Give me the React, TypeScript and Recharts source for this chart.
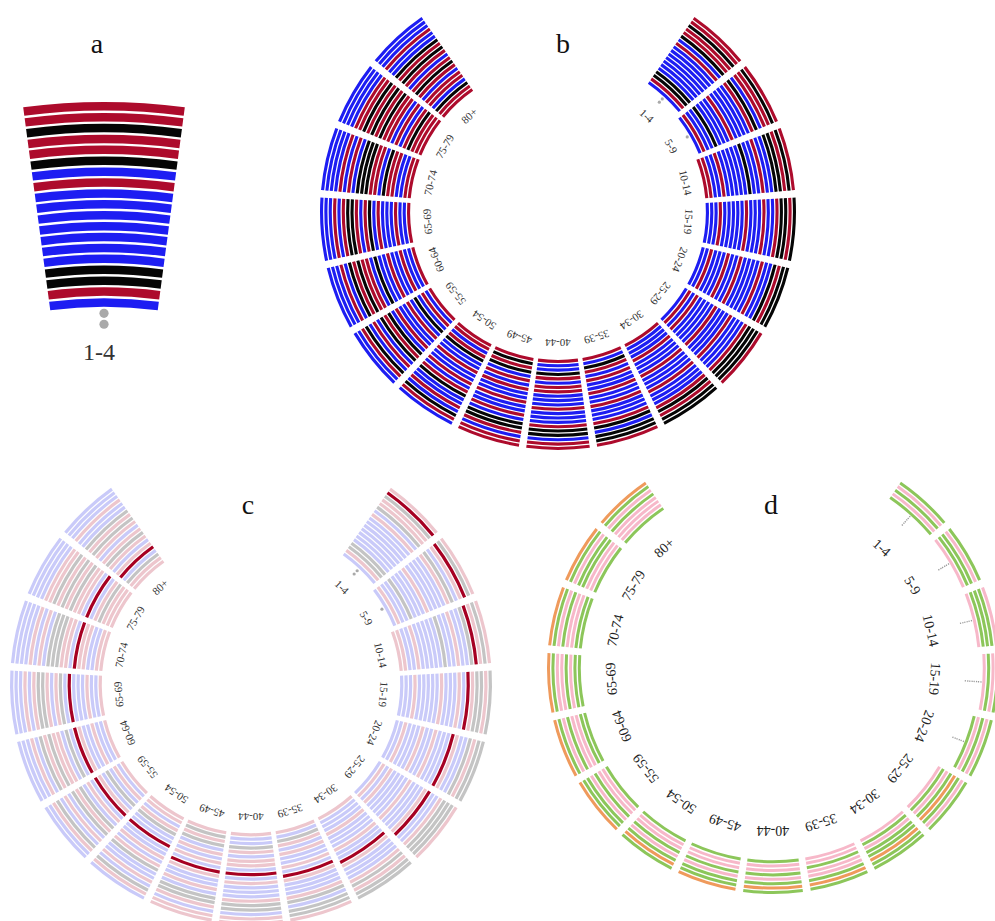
import React from 'react';
import { PieChart, Pie, Cell } from 'recharts';

const AGE_GROUPS = [
  '1-4', '5-9', '10-14', '15-19', '20-24', '25-29', '30-34', '35-39', '40-44',
  '45-49', '50-54', '55-59', '60-64', '65-69', '70-74', '75-79', '80+',
];

// panel b / c rings per age group, outer -> inner. R red, K black, B blue, '.' no data
const B_RINGS = [
  'RRKRRKBRBBBBBBBKKRB..',
  'RKRRBKRBBBBRBBBKBBRB.',
  'RKRKKBBRBBKBBBBBRBBRR',
  'KRKKRBBRBBBRBBBBBRBBB',
  'KKRKBBRBBBBRBBRBBBRBB',
  'RKKKRBBBRBBBRBBBBRBRB',
  'KKRKRBBBRBBBRBBBRBBBR',
  'RKKBKRBBBRBBRBBRBRKBR',
  'RRBKKRBBBRBBBRRBRKBBR',
  'RRBRKKBRBBRBBRBRBKRKR',
  'BRKBRBBKRBRBBRBBKRBRR',
  'BBRKBRBKRKBRBBRBKBRBR',
  'BBBRBKRKRRBKBBRBBRBBR',
  'BBBRBRKKRBRKBRBBBRBBR',
  'BBBBRBRBKKKRRBKRRBBRR',
  'BBBBRRKRKRKRRBRBRKRRR',
  'BBBRBBKRKRBRKRBRRBKRR',
];

// panel c: ring (outer -> inner) of the highlighted row in each age group
const C_HIGHLIGHT = [1, 2, 3, 5, 7, 7, 9, 10, 11, 11, 13, 13, 13, 13, 14, 14, 16];

// panel d rings, outer -> inner. G green, P pink, O orange, '.' no data
const D_RINGS = [
  'GPGPG...',
  'GPGGP...',
  'PGGGP...',
  'GPGP....',
  'GPGPG...',
  'GPGOGPGP',
  'GGOGGPGP',
  'GOGPPGPP',
  'GOGPGPPG',
  'OGGPGPPG',
  'GOGPGPPG',
  'OGGPGPPG',
  'OGPGPPGG',
  'OGPPGPGG',
  'OGPGPPGG',
  'OGPGGPPG',
  'OGPGPPPG',
];

// panel a zooms on this age group of panel b
const A_GROUP = '1-4';

const B_COLORS: Record<string, string> = { R: '#ad0b2c', K: '#050505', B: '#1d1df2' };
const C_COLORS: Record<string, string> = { R: '#edc6cd', K: '#c4c4c4', B: '#c9caf9' };
const C_HIGHLIGHT_COLOR = '#a60022';
const D_COLORS: Record<string, string> = { G: '#8cc65a', P: '#f7b8c9', O: '#ef9a5c' };

const RADIAN = Math.PI / 180;
const SERIF = "'Liberation Serif', 'Times New Roman', serif";

type Geo = {
  cx: number; cy: number; outer: number; pitch: number; band: number;
  start: number; end: number; pad: number;
};

const GEO_A: Geo = { cx: 104, cy: 713, outer: 611, pitch: 10.9, band: 8.5, start: 97.6, end: 82.4, pad: 0 };
const GEO_B: Geo = { cx: 558, cy: 212, outer: 238, pitch: 4.35, band: 3.1, start: 55, end: -235, pad: 1.8 };
const GEO_C: Geo = { cx: 251, cy: 684, outer: 241, pitch: 4.43, band: 3.2, start: 54.5, end: -234.5, pad: 1.8 };
const GEO_D: Geo = { cx: 773, cy: 668, outer: 226, pitch: 4.4, band: 3.0, start: 55.5, end: -235.5, pad: 2.0 };

const polar = (cx: number, cy: number, r: number, angle: number) => ({
  x: cx + r * Math.cos(-angle * RADIAN),
  y: cy + r * Math.sin(-angle * RADIAN),
});

const groupOf = (props: any) => AGE_GROUPS.indexOf(props.payload?.name ?? props.name);

// marker drawn where a ring has no data
const missingMarker = (rings: string[], slot: number, kind: 'dot' | 'dash', size: number, pitch: number) =>
  (props: any) => {
    const g = groupOf(props);
    if (g < 0 || rings[g][slot] !== '.') return null;
    const { cx, cy, midAngle, innerRadius, outerRadius } = props;
    if (kind === 'dot') {
      const p = polar(cx, cy, (innerRadius + outerRadius) / 2, midAngle);
      return <circle key={`m${slot}-${g}`} cx={p.x} cy={p.y} r={size} fill="#a9a9a9" />;
    }
    const p1 = polar(cx, cy, outerRadius + 0.6, midAngle);
    const p0 = polar(cx, cy, outerRadius + 0.6 - pitch, midAngle);
    return (
      <line key={`m${slot}-${g}`} x1={p1.x} y1={p1.y} x2={p0.x} y2={p0.y}
        stroke="#9a9a9a" strokeWidth={1.4} strokeDasharray="1.2 1.2" />
    );
  };

const ageLabel = (radius: number, fontSize: number, color: string) => (props: any) => {
  const { cx, cy, midAngle } = props;
  const p = polar(cx, cy, radius, midAngle);
  return (
    <text key={`l${props.name}`} x={p.x} y={p.y} transform={`rotate(${90 - midAngle} ${p.x} ${p.y})`}
      textAnchor="middle" dominantBaseline="central" fontSize={fontSize} fontFamily={SERIF} fill={color}>
      {props.payload?.name ?? props.name}
    </text>
  );
};

const ringPies = (
  id: string,
  geo: Geo,
  groups: string[],
  rings: string[],
  colorOf: (g: number, slot: number, code: string) => string,
  marker: 'dot' | 'dash',
  markerSize: number,
) => {
  const data = groups.map((name) => ({ name, value: 1 }));
  const slots = rings[0].length;
  return Array.from({ length: slots }, (_, slot) => {
    const outerRadius = geo.outer - slot * geo.pitch;
    return (
      <Pie
        key={`${id}-${slot}`}
        data={data}
        dataKey="value"
        cx={geo.cx}
        cy={geo.cy}
        startAngle={geo.start}
        endAngle={geo.end}
        paddingAngle={geo.pad}
        innerRadius={outerRadius - geo.band}
        outerRadius={outerRadius}
        stroke="none"
        labelLine={false}
        label={missingMarker(rings, slot, marker, markerSize, geo.pitch)}
        isAnimationActive={false}
      >
        {groups.map((name, g) => {
          const code = rings[g][slot];
          return <Cell key={name} fill={code === '.' ? 'none' : colorOf(g, slot, code)} />;
        })}
      </Pie>
    );
  });
};

const labelPie = (id: string, geo: Geo, radius: number, fontSize: number, color: string) => (
  <Pie
    key={id}
    data={AGE_GROUPS.map((name) => ({ name, value: 1 }))}
    dataKey="value"
    cx={geo.cx}
    cy={geo.cy}
    startAngle={geo.start}
    endAngle={geo.end}
    paddingAngle={geo.pad}
    innerRadius={radius - 1}
    outerRadius={radius}
    fill="none"
    stroke="none"
    labelLine={false}
    label={ageLabel(radius, fontSize, color)}
    isAnimationActive={false}
  />
);

const letterStyle = (left: number, top: number, size: number): React.CSSProperties => ({
  position: 'absolute',
  left,
  top,
  transform: 'translateX(-50%)',
  fontFamily: SERIF,
  fontSize: size,
  lineHeight: 1,
  color: '#111',
});

export default function App() {
  const aIndex = AGE_GROUPS.indexOf(A_GROUP);
  return (
    <div style={{ position: 'absolute', left: 0, top: 0, width: 995, height: 921, background: '#fff' }}>
      <PieChart width={995} height={921} margin={{ top: 0, right: 0, bottom: 0, left: 0 }}>
        {ringPies('a', GEO_A, [A_GROUP], [B_RINGS[aIndex]], (_g, _s, c) => B_COLORS[c], 'dot', 4.6)}
        {ringPies('b', GEO_B, AGE_GROUPS, B_RINGS, (_g, _s, c) => B_COLORS[c], 'dot', 1.6)}
        {labelPie('b-labels', GEO_B, 131, 11, '#333')}
        {ringPies('c', GEO_C, AGE_GROUPS, B_RINGS,
          (g, s, c) => (C_HIGHLIGHT[g] === s ? C_HIGHLIGHT_COLOR : C_COLORS[c]), 'dot', 1.6)}
        {labelPie('c-labels', GEO_C, 133, 11, '#333')}
        {ringPies('d', GEO_D, AGE_GROUPS, D_RINGS, (_g, _s, c) => D_COLORS[c], 'dash', 1)}
        {labelPie('d-labels', GEO_D, 162, 14, '#222')}
      </PieChart>
      <div style={letterStyle(97, 30, 28)}>a</div>
      <div style={letterStyle(563, 30, 28)}>b</div>
      <div style={letterStyle(248, 491, 28)}>c</div>
      <div style={letterStyle(771, 491, 28)}>d</div>
      <div style={{ ...letterStyle(99, 340, 24), color: '#333' }}>1-4</div>
    </div>
  );
}
